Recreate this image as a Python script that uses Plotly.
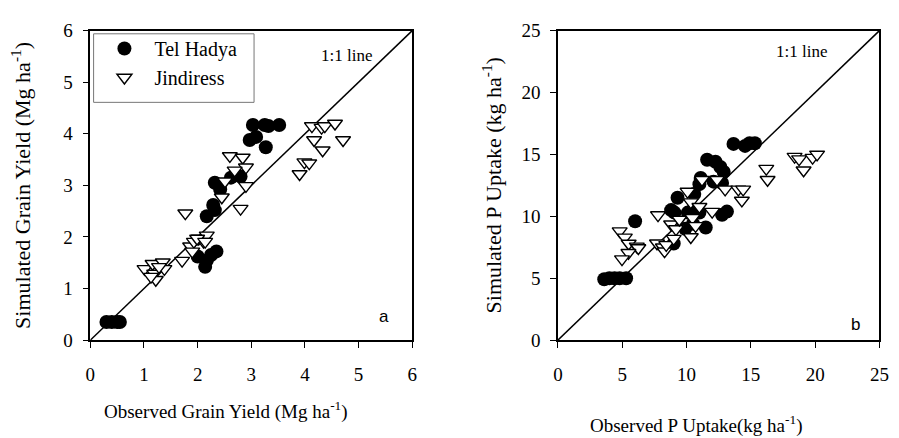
import plotly.graph_objects as go

# ---- data: panel a (grain yield, Mg/ha) ----
th_yield_obs = [0.30, 0.40, 0.50, 0.55, 2.00, 2.14, 2.17, 2.25, 2.35, 2.17, 2.32, 2.29, 2.42, 2.32,
                2.62, 2.80, 2.97, 3.09, 3.27, 3.03, 3.25, 3.32, 3.52]
th_yield_sim = [0.35, 0.35, 0.35, 0.35, 1.62, 1.42, 1.54, 1.65, 1.72, 2.40, 2.52, 2.62, 2.92, 3.05,
                3.15, 3.17, 3.88, 3.94, 3.74, 4.17, 4.17, 4.15, 4.17]
ji_yield_obs = [1.01, 1.16, 1.35, 1.19, 1.22, 1.38, 1.28, 1.13, 1.71, 1.77, 1.86, 1.93, 2.02, 2.17,
                1.90, 2.11, 1.99, 2.14, 2.60, 2.84, 2.90, 2.69, 2.51, 2.90, 2.45, 2.80,
                4.13, 4.31, 4.37, 4.56, 4.17, 4.71, 4.33, 3.99, 4.08, 3.90]
ji_yield_sim = [1.38, 1.48, 1.51, 1.29, 1.17, 1.38, 1.42, 1.23, 1.54, 2.46, 1.82, 1.91, 1.97, 2.03,
                1.72, 1.91, 1.97, 1.91, 3.57, 3.54, 3.35, 3.29, 3.08, 2.99, 2.77, 2.55,
                4.15, 4.12, 4.15, 4.20, 3.88, 3.88, 3.68, 3.45, 3.43, 3.22]

# ---- data: panel b (P uptake, kg/ha) ----
th_p_obs = [3.6, 4.0, 4.4, 4.8, 5.3, 6.0, 9.0, 8.8, 9.06, 9.3, 10.1, 10.6, 11.0, 11.1, 10.34, 11.0,
            11.49, 11.6, 12.25, 12.63, 12.89, 12.1, 12.76, 12.76, 13.14, 13.65, 14.55, 15.31, 14.9,
            9.9, 10.5]
th_p_sim = [4.92, 5.0, 5.0, 5.0, 5.0, 9.6, 7.8, 10.5, 10.3, 11.5, 10.3, 11.8, 12.6, 13.1, 10.38, 10.3,
            9.1, 14.57, 14.41, 13.98, 13.59, 12.8, 12.69, 10.13, 10.38, 15.85, 15.69, 15.9, 15.9,
            9.0, 9.4]
ji_p_obs = [4.8, 5.2, 5.5, 6.13, 6.25, 5.48, 4.98, 7.78, 7.7, 8.16, 8.29, 8.42, 8.8, 9.18, 9.44, 9.0,
            10.08, 10.33, 10.33, 10.46, 10.7, 11.0, 11.2, 11.99, 12.37, 13.0, 14.03, 14.4, 14.3,
            16.2, 16.3, 18.4, 18.75, 19.1, 19.8, 20.15]
ji_p_sim = [8.8, 8.3, 7.8, 7.57, 7.44, 7.05, 6.54, 10.1, 7.82, 7.5, 7.18, 7.69, 9.36, 8.97, 9.74, 8.2,
            12.0, 11.15, 8.33, 9.87, 9.23, 10.77, 12.95, 10.38, 12.95, 12.18, 12.18, 12.18, 11.28,
            13.85, 12.95, 14.82, 14.62, 13.72, 14.74, 15.0]

series_names = ["Tel Hadya", "Jindiress"]
yield_ticks = [0, 1, 2, 3, 4, 5, 6]
p_ticks = [0, 5, 10, 15, 20, 25]

SERIF = "Liberation Serif"
SANS = "Liberation Sans"
NBSP = "\u00a0\u00a0"

circle_style = dict(symbol="circle", size=14, color="black", line=dict(width=0))
tri_style = dict(symbol="triangle-down", size=13, color="white", line=dict(width=1.4, color="black"))

fig = go.Figure()

# panel a
fig.add_trace(go.Scatter(x=[0, 6], y=[0, 6], mode="lines", line=dict(color="black", width=1.5),
                         showlegend=False, xaxis="x", yaxis="y"))
fig.add_trace(go.Scatter(x=th_yield_obs, y=th_yield_sim, mode="markers", marker=circle_style,
                         name=NBSP + series_names[0], xaxis="x", yaxis="y"))
fig.add_trace(go.Scatter(x=ji_yield_obs, y=ji_yield_sim, mode="markers", marker=tri_style,
                         name=NBSP + series_names[1], xaxis="x", yaxis="y"))
# panel b
fig.add_trace(go.Scatter(x=[0, 25], y=[0, 25], mode="lines", line=dict(color="black", width=1.5),
                         showlegend=False, xaxis="x2", yaxis="y2"))
fig.add_trace(go.Scatter(x=th_p_obs, y=th_p_sim, mode="markers", marker=circle_style,
                         showlegend=False, xaxis="x2", yaxis="y2"))
fig.add_trace(go.Scatter(x=ji_p_obs, y=ji_p_sim, mode="markers", marker=tri_style,
                         showlegend=False, xaxis="x2", yaxis="y2"))

W, H = 899, 438
def px(v):
    return v / W
def py(v):
    return 1 - v / H

axis_common = dict(showgrid=False, zeroline=False, showline=True, linecolor="black", linewidth=1.5,
                   mirror=True, ticks="outside", ticklen=6, tickwidth=1.2, tickcolor="black",
                   tickfont=dict(family=SERIF, size=19, color="black"))

def label(text, x, y, size, angle=0, family=SERIF, xref="paper", yref="paper"):
    return dict(text=text, x=x, y=y, xref=xref, yref=yref, xanchor="center", yanchor="middle",
                showarrow=False, textangle=angle, font=dict(family=family, size=size, color="black"))

fig.update_layout(
    width=W, height=H, margin=dict(l=0, r=0, t=0, b=0),
    paper_bgcolor="white", plot_bgcolor="white",
    font=dict(family=SERIF, color="black"),
    xaxis=dict(domain=[px(86.7), px(413.7)], range=[0, 6], tickvals=yield_ticks, anchor="y",
               ticklabelstandoff=10, **axis_common),
    yaxis=dict(domain=[py(346.7), py(21.7)], range=[0, 6], tickvals=yield_ticks, anchor="x",
               ticklabelstandoff=6, **axis_common),
    xaxis2=dict(domain=[px(561.7), px(888.3)], range=[0, 25], tickvals=p_ticks, anchor="y2",
                ticklabelstandoff=10, **axis_common),
    yaxis2=dict(domain=[py(346.7), py(21.7)], range=[0, 25], tickvals=p_ticks, anchor="x2",
                ticklabelstandoff=6, **axis_common),
    legend=dict(x=px(101), y=py(20), xanchor="left", yanchor="top", bgcolor="rgba(0,0,0,0)",
                borderwidth=0, font=dict(family=SERIF, size=20, color="black"), tracegroupgap=0),
    shapes=[dict(type="rect", xref="paper", yref="paper", x0=px(90), x1=px(253), y0=py(97), y1=py(25),
                 line=dict(color="#777777", width=1))],
    annotations=[
        label("1:1 line", 4.78, 5.51, 17, xref="x", yref="y"),
        label("1:1 line", 18.9, 23.35, 17, xref="x2", yref="y2"),
        label("a", 5.48, 0.46, 17, family=SANS, xref="x", yref="y"),
        label("b", 23.1, 1.29, 17, family=SANS, xref="x2", yref="y2"),
        label("Observed Grain Yield (Mg ha<sup>-1</sup>)", px(224), py(421), 19),
        label("Observed P Uptake(kg ha<sup>-1</sup>)", px(702), py(435), 19),
        label("Simulated Grain Yield (Mg ha<sup>-1</sup>)", px(16), py(184), 22, angle=-90),
        label("Simulated P Uptake (kg ha<sup>-1</sup>)", px(495), py(184), 22, angle=-90),
    ],
)

fig.write_html("out.html")
